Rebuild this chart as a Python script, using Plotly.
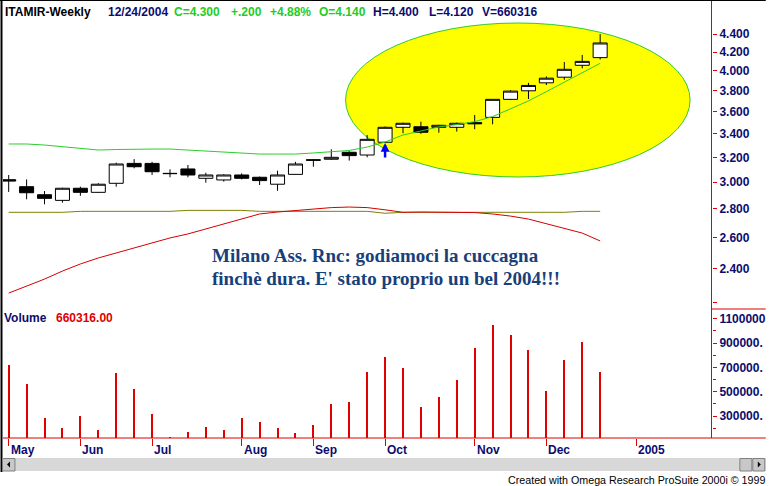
import numpy as np
import pandas as pd
import plotly.graph_objects as go

# ---------------- data ----------------
dates = pd.date_range("2004-05-07", periods=34, freq="7D")
opens = [3.020, 2.966, 2.905, 2.863, 2.954, 2.923, 2.992, 3.150, 3.150, 3.070,
         3.105, 3.031, 3.018, 3.057, 3.039, 2.985, 3.062, 3.180, 3.184, 3.242,
         3.219, 3.327, 3.458, 3.463, 3.458, 3.458, 3.500, 3.548, 3.717, 3.800,
         3.879, 3.936, 4.059, 4.140]
highs = [3.057, 3.022, 2.933, 2.958, 2.966, 2.993, 3.156, 3.185, 3.163, 3.102,
         3.137, 3.075, 3.063, 3.070, 3.045, 3.091, 3.163, 3.182, 3.267, 3.250,
         3.390, 3.465, 3.500, 3.509, 3.480, 3.500, 3.570, 3.720, 3.806, 3.879,
         3.944, 4.094, 4.169, 4.400]
lows = [2.926, 2.871, 2.834, 2.846, 2.897, 2.920, 2.966, 3.110, 3.057, 3.039,
        3.039, 2.997, 3.005, 3.022, 2.979, 2.935, 3.060, 3.123, 3.180, 3.173,
        3.200, 3.320, 3.405, 3.400, 3.410, 3.420, 3.441, 3.485, 3.710, 3.720,
        3.857, 3.910, 4.027, 4.120]
closes = [3.010, 2.920, 2.878, 2.954, 2.923, 2.985, 3.145, 3.123, 3.083, 3.068,
          3.057, 3.057, 3.057, 3.031, 3.013, 3.057, 3.145, 3.176, 3.200, 3.214,
          3.352, 3.458, 3.494, 3.414, 3.476, 3.494, 3.490, 3.717, 3.797, 3.853,
          3.926, 4.017, 4.100, 4.300]
volume = [719300, 563100, 283600, 201300, 300000, 184900, 653500, 522000, 316500, 127400,
          168500, 209600, 184900, 283600, 250700, 201300, 160300, 226000, 398700, 415100,
          661800, 785100, 694700, 374000, 456200, 596000, 859100, 1048200, 966000, 842700,
          505600, 760400, 908400, 660316]
green_line = [3.312, 3.312, 3.303, 3.291, 3.278, 3.261, 3.265, 3.269, 3.269, 3.269,
              3.261, 3.253, 3.244, 3.231, 3.227, 3.227, 3.227, 3.236, 3.244, 3.257,
              3.286, 3.329, 3.390, 3.425, 3.461, 3.482, 3.509, 3.555, 3.626, 3.702,
              3.792, 3.888, 3.983, 4.080]
olive_line = [2.776, 2.776, 2.776, 2.776, 2.783, 2.783, 2.783, 2.783, 2.783, 2.783,
              2.790, 2.790, 2.790, 2.790, 2.783, 2.783, 2.783, 2.783, 2.783, 2.783,
              2.783, 2.769, 2.776, 2.776, 2.776, 2.776, 2.776, 2.776, 2.776, 2.776,
              2.776, 2.776, 2.783, 2.783]
red_line = [2.253, 2.295, 2.336, 2.385, 2.429, 2.467, 2.499, 2.531, 2.564, 2.598,
            2.625, 2.659, 2.693, 2.728, 2.764, 2.778, 2.789, 2.800, 2.810, 2.814,
            2.810, 2.794, 2.776, 2.778, 2.778, 2.778, 2.774, 2.764, 2.749, 2.728,
            2.697, 2.666, 2.631, 2.578]

price_ticks = [2.2, 2.4, 2.6, 2.8, 3.0, 3.2, 3.4, 3.6, 3.8, 4.0, 4.2, 4.4]
price_ticktext = ["", "2.400", "2.600", "2.800", "3.000", "3.200", "3.400",
                  "3.600", "3.800", "4.000", "4.200", "4.400"]
vol_ticks = [300000, 500000, 700000, 900000, 1100000]
vol_ticktext = ["300000.", "500000.", "700000.", "900000.", "1100000"]
vol_minor = [200000, 400000, 600000, 800000, 1000000]
month_dates = ["2004-05-07", "2004-06-04", "2004-07-02", "2004-08-06", "2004-09-03",
               "2004-10-01", "2004-11-05", "2004-12-03", "2005-01-07"]
month_labels = ["May", "Jun", "Jul", "Aug", "Sep", "Oct", "Nov", "Dec", "2005"]

# ---------------- layout helpers ----------------
W_FIG, H_FIG = 769, 486
L0, R0, T0, B0 = 3, 715, 22, 438
PW, PH = R0 - L0, B0 - T0


def px(x):
    return (x - L0) / PW


def py(y):
    return (B0 - y) / PH


NAVY = "#0c0c6e"
RED = "#e00000"
GREEN = "#2ecc2e"

x_start = pd.Timestamp("2004-05-07") - pd.Timedelta(days=2.22)
x_end = x_start + pd.Timedelta(days=276.9)

fig = go.Figure()

fig.add_trace(go.Candlestick(
    x=dates, open=opens, high=highs, low=lows, close=closes,
    xaxis="x", yaxis="y",
    increasing=dict(line=dict(color="black", width=1), fillcolor="white"),
    decreasing=dict(line=dict(color="black", width=1), fillcolor="black"),
    whiskerwidth=0, showlegend=False, hoverinfo="skip",
))
fig.add_trace(go.Scatter(x=dates, y=green_line, mode="lines", yaxis="y",
                         line=dict(color=GREEN, width=1), showlegend=False, hoverinfo="skip"))
fig.add_trace(go.Scatter(x=dates, y=olive_line, mode="lines", yaxis="y",
                         line=dict(color="#808000", width=1), showlegend=False, hoverinfo="skip"))
fig.add_trace(go.Scatter(x=dates, y=red_line, mode="lines", yaxis="y",
                         line=dict(color="#d40000", width=1), showlegend=False, hoverinfo="skip"))
fig.add_trace(go.Bar(x=dates, y=volume, yaxis="y2", width=0.8 * 86400000,
                     marker=dict(color=RED, line=dict(width=0)),
                     showlegend=False, hoverinfo="skip"))

tickfont = dict(family="Liberation Sans", size=12, color=NAVY, weight="bold")

fig.update_layout(
    width=W_FIG, height=H_FIG,
    margin=dict(l=L0, r=W_FIG - R0, t=T0, b=H_FIG - B0, pad=0),
    paper_bgcolor="white", plot_bgcolor="white",
    boxgap=0.1, boxgroupgap=0.13,
    xaxis=dict(type="date", range=[x_start, x_end], anchor="y2",
               showgrid=False, zeroline=False, showline=False,
               tickmode="array", tickvals=month_dates, ticktext=[""] * len(month_dates),
               ticks="outside", ticklen=7, tickcolor=RED, tickwidth=1,
               rangeslider=dict(visible=False)),
    yaxis=dict(type="log", domain=[py(309), 1.0], side="right", anchor="x",
               range=[0.3349, 0.6570], showgrid=False, zeroline=False, showline=False,
               tickmode="array", tickvals=price_ticks, ticktext=price_ticktext,
               ticks="outside", ticklen=4, tickcolor=RED, tickfont=tickfont),
    yaxis2=dict(domain=[0, py(310)], side="right", anchor="x",
                range=[119100, 1171500], showgrid=False, zeroline=False, showline=False,
                tickmode="array", tickvals=vol_ticks, ticktext=vol_ticktext,
                ticks="outside", ticklen=4, tickcolor=RED, tickfont=tickfont,
                minor=dict(tickmode="array", tickvals=vol_minor, ticks="outside",
                           ticklen=3, tickcolor=RED)),
    showlegend=False,
    bargap=0,
)

shapes = [
    dict(type="circle", xref="paper", yref="paper", x0=px(347), x1=px(693),
         y0=py(177), y1=py(23), fillcolor="#ffff00", line=dict(color=GREEN, width=1),
         layer="below"),
    # right axis line
    dict(type="line", xref="paper", yref="paper", x0=px(714.5), x1=px(714.5),
         y0=py(438), y1=py(0), line=dict(color=RED, width=1)),
    # volume baseline
    dict(type="line", xref="paper", yref="paper", x0=px(3), x1=px(769),
         y0=py(438), y1=py(438), line=dict(color=RED, width=1)),
    # separator in axis zone
    dict(type="line", xref="paper", yref="paper", x0=px(715), x1=px(769),
         y0=py(309), y1=py(309), line=dict(color=RED, width=1)),
    # frame
    dict(type="line", xref="paper", yref="paper", x0=px(1.5), x1=px(1.5),
         y0=py(0), y1=py(472), line=dict(color="black", width=2)),
    dict(type="line", xref="paper", yref="paper", x0=px(0), x1=px(769),
         y0=py(0.5), y1=py(0.5), line=dict(color="black", width=1)),
    # scrollbar
    dict(type="rect", xref="paper", yref="paper", x0=px(2), x1=px(769),
         y0=py(471), y1=py(458), fillcolor="#d8d8d8", line=dict(width=0)),
    dict(type="rect", xref="paper", yref="paper", x0=px(2.5), x1=px(15),
         y0=py(471), y1=py(458.5), fillcolor="#c8c8c8", line=dict(color="#808080", width=1)),
    dict(type="rect", xref="paper", yref="paper", x0=px(743), x1=px(755),
         y0=py(471), y1=py(458.5), fillcolor="#c8c8c8", line=dict(color="#808080", width=1)),
    dict(type="rect", xref="paper", yref="paper", x0=px(756), x1=px(768),
         y0=py(471), y1=py(458.5), fillcolor="#c8c8c8", line=dict(color="#808080", width=1)),
    dict(type="path", xref="paper", yref="paper",
         path=f"M {px(7)} {py(464.5)} L {px(10)} {py(461.5)} L {px(10)} {py(467.5)} Z",
         fillcolor="black", line=dict(width=0)),
    dict(type="path", xref="paper", yref="paper",
         path=f"M {px(764)} {py(464.5)} L {px(761)} {py(461.5)} L {px(761)} {py(467.5)} Z",
         fillcolor="black", line=dict(width=0)),
]
fig.update_layout(shapes=shapes)

ann = []
title_font = "Liberation Sans"


def txt(x, y, s, color, size=12, bold=True, family=title_font, xanchor="left"):
    ann.append(dict(xref="paper", yref="paper", x=px(x), y=py(y), text=s, showarrow=False,
                    xanchor=xanchor, yanchor="middle",
                    font=dict(family=family, size=size, color=color,
                              weight="bold" if bold else "normal")))


txt(3, 12, "ITAMIR-Weekly", "black")
txt(106, 12, "12/24/2004", NAVY)
txt(173, 12, "C=4.300", "#22cc22")
txt(230, 12, "+.200", "#22cc22")
txt(269, 12, "+4.88%", "#22cc22")
txt(318, 12, "O=4.140", "#22cc22")
txt(373, 12, "H=4.400", NAVY)
txt(429, 12, "L=4.120", NAVY)
txt(482, 12, "V=660316", NAVY)

txt(2, 318, "Volume", NAVY, size=12)
txt(54, 318, "660316.00", RED, size=12)

txt(211, 255, "Milano Ass. Rnc: godiamoci la cuccagna", "#17407a", size=19,
    family="Liberation Serif")
txt(211, 278, "finchè dura. E' stato proprio un bel 2004!!!", "#17407a", size=19,
    family="Liberation Serif")

for d, lab in zip(month_dates, month_labels):
    ann.append(dict(xref="x", yref="paper", x=d, y=py(450), text=lab, showarrow=False,
                    xanchor="left", yanchor="middle", xshift=0,
                    font=dict(family=title_font, size=12, color=NAVY, weight="bold")))

txt(770, 480, "Created with Omega Research ProSuite 2000i © 1999", "black", size=10.7,
    bold=False, xanchor="right")

# blue signal arrow under the breakout candle
ann.append(dict(xref="x", yref="y", x=dates[21], y=np.log10(lows[21]), text="",
                showarrow=True, ax=0, ay=16, arrowhead=2, arrowsize=0.7,
                arrowwidth=2.5, arrowcolor="#0000ff"))

fig.update_layout(annotations=ann)

fig.write_html("out.html", config={"displayModeBar": False},
               post_script="document.body.style.margin='0';"
                           "document.body.style.overflow='hidden';")
